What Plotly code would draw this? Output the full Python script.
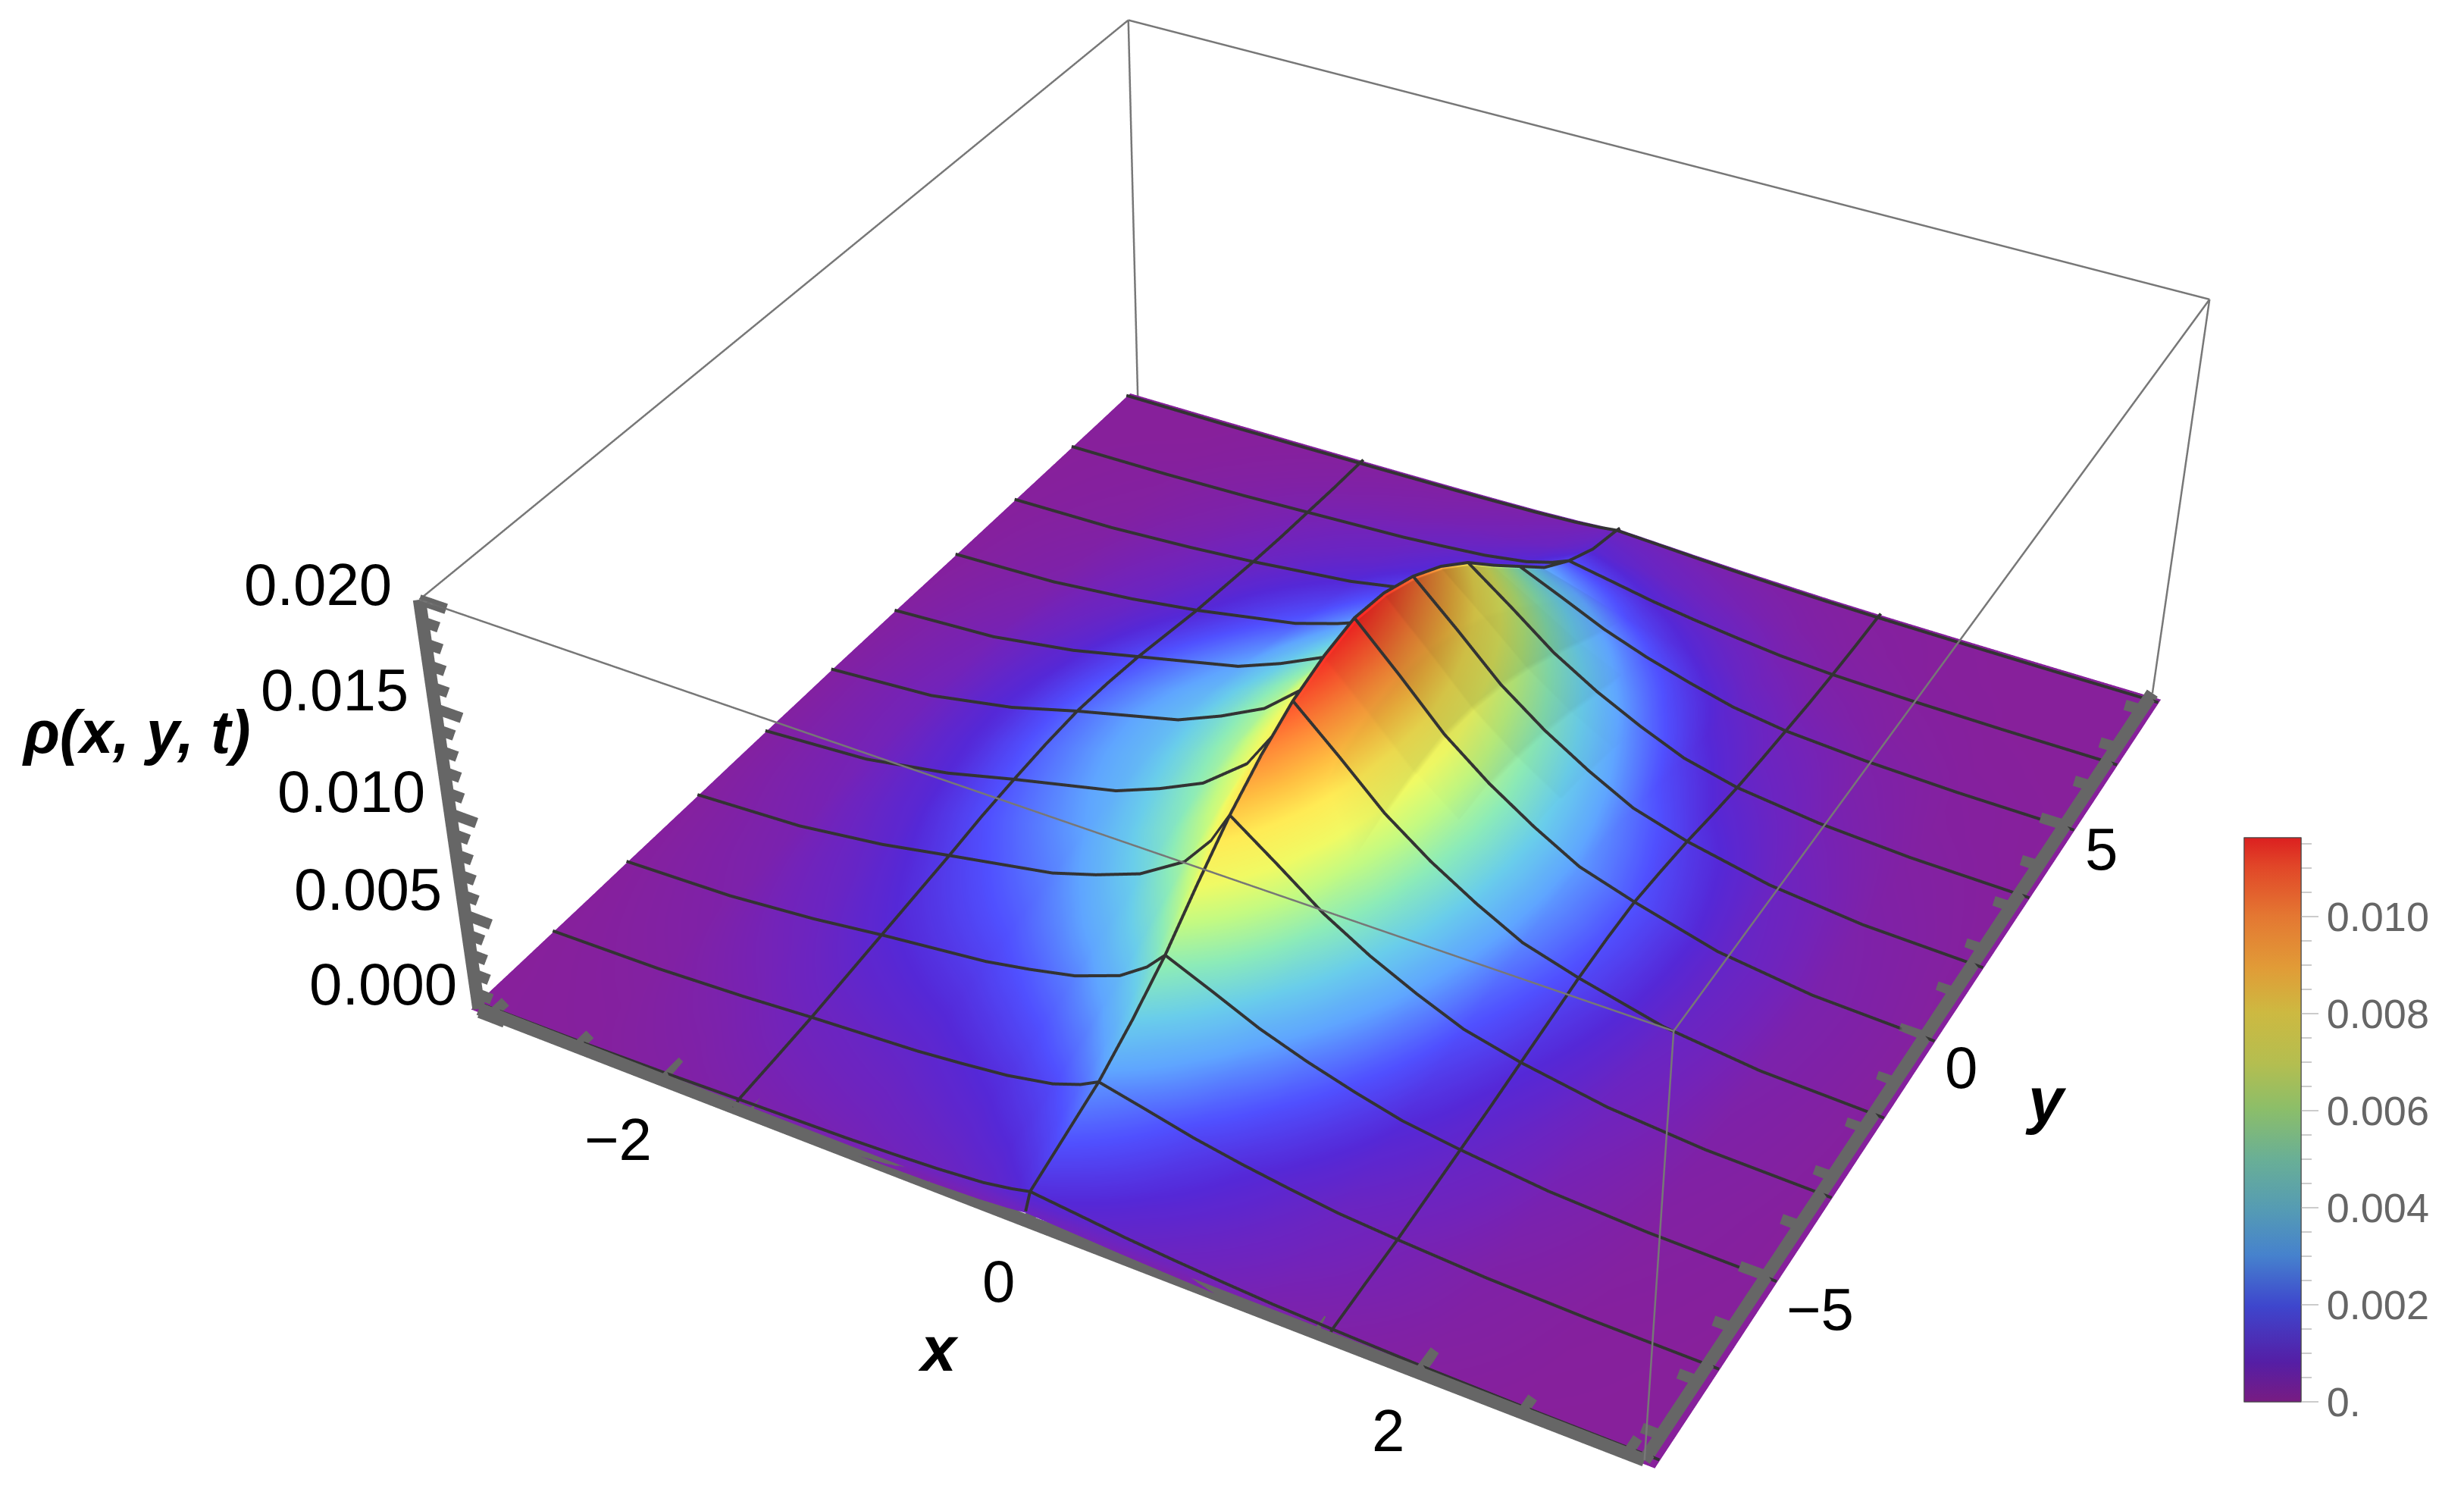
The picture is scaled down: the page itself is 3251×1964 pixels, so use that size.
import numpy as np
import plotly.graph_objects as go

# grid, rho in units of 1e-5
x_grid = [-3.13,-2.5,-2,-1.6,-1,-.75,-.5,-.25,-.1,0,.25,.5,.75,1,1.25,1.55,2,2.5,3.13]
y_grid = [-8.45,-8.33,-7.5,-6.67,-5.83,-5,-4.17,-3.33,-2.5,-1.67,-.83,0,.83,1.67,2.5,3.33,4.17,5,5.83,6.67,7.5,8.33,8.45]
rho_1e5 = [
 [0,3,6,11,18,23,28,38,49,60,49,37,28,20,14,9,4,1,0],
 [2,6,15,26,41,51,64,84,108,130,106,81,62,46,32,22,10,3,1],
 [2,9,24,42,65,81,101,133,169,205,168,129,98,72,50,35,16,5,1],
 [3,13,35,60,91,113,139,183,232,280,228,174,132,97,66,45,20,7,1],
 [4,19,49,85,128,159,197,259,327,395,322,247,187,138,95,65,29,10,2],
 [6,24,64,110,169,211,261,345,438,530,432,330,250,183,125,85,38,13,3],
 [7,30,78,135,214,271,338,451,576,700,569,432,325,236,159,105,47,16,3],
 [8,35,93,160,258,328,412,552,706,860,699,532,400,291,196,130,59,20,4],
 [10,42,110,190,301,381,476,635,810,985,802,612,462,338,230,155,70,23,5],
 [11,46,122,210,332,419,523,697,889,1080,882,675,513,378,261,180,81,27,5],
 [11,50,131,225,352,443,553,735,935,1135,928,712,543,402,280,195,88,29,6],
 [12,51,133,230,360,453,565,751,955,1160,949,728,555,411,286,200,90,30,6],
 [11,47,125,215,342,433,543,725,925,1125,917,700,530,388,265,180,81,27,5],
 [10,42,110,190,310,396,500,672,861,1050,853,647,486,352,236,155,70,23,5],
 [8,34,90,155,266,345,439,597,771,945,764,574,425,302,194,120,54,18,4],
 [6,26,70,120,217,286,368,506,658,810,652,486,356,248,155,90,41,14,3],
 [5,21,55,95,171,226,291,400,520,640,514,383,280,194,119,68,31,10,2],
 [4,15,41,70,127,168,218,300,390,480,385,287,209,145,89,50,23,8,2],
 [3,11,29,50,88,115,147,201,261,320,257,190,139,95,58,32,14,5,1],
 [2,8,20,35,58,75,94,127,164,200,160,119,87,60,36,20,9,3,1],
 [1,4,12,20,33,42,52,70,90,110,88,66,48,34,21,12,5,2,0],
 [1,2,6,10,17,22,28,38,49,60,49,37,27,19,13,8,4,1,0],
 [0,2,5,8,14,18,23,32,41,50,40,30,22,16,10,6,3,1,0],
]
x_mesh = [-1.6,0,1.55]
y_mesh = [-8.33,-6.67,-5,-3.33,-1.67,0,1.67,3.33,5,6.67,8.33]
x_major = [-2,0,2]
x_minor = [-3,-2.5,-1.5,-1,-.5,.5,1,1.5,2.5,3]
y_major = [-5,0,5]
y_minor = [-8,-7,-6,-4,-3,-2,-1,1,2,3,4,6,7,8]
z_major = [0,.005,.01,.015,.02]
z_minor = [.001,.002,.003,.004,.006,.007,.008,.009,.011,.012,.013,.014,.016,.017,.018,.019]
cbar_major = [0,.002,.004,.006,.008,.01]
cbar_labels = ["0.","0.002","0.004","0.006","0.008","0.010"]
cbar_minor = [.0005,.001,.0015,.0025,.003,.0035,.0045,.005,.0055,.0065,.007,.0075,.0085,.009,.0095,.0105,.011,.0115]

xf, yf, zf = 3.08, 8.45, 0.02
CMAX = 0.01162
xr, yr, zr = [-3.13,3.13], [-8.45,8.45], [-0.0002,0.0202]

eye = dict(x=1.2912,y=-2.4629,z=1.9988)
center = dict(x=-.0678,y=-.0741,z=-.0653)
up = dict(x=.0514,y=-.0745,z=1)
aspect = dict(x=1,y=1.0037,z=.3949)
focal_px = 5813.6
fovy = 2*np.arctan(982/focal_px)

x_arr=np.array(x_grid); y_arr=np.array(y_grid); rho=np.array(rho_1e5)*1e-5

bar_scale = [[0,"rgb(120,28,130)"],[.07,"rgb(85,30,165)"],[.17,"rgb(62,70,205)"],[.26,"rgb(70,130,205)"],
             [.34,"rgb(85,155,180)"],[.43,"rgb(105,175,150)"],[.52,"rgb(140,190,105)"],[.60,"rgb(180,190,80)"],
             [.69,"rgb(205,185,65)"],[.77,"rgb(225,155,55)"],[.86,"rgb(228,120,50)"],[.95,"rgb(225,70,40)"],[1,"rgb(220,32,32)"]]
surf_scale = [[0,"rgb(135,32,155)"],[.04,"rgb(115,35,185)"],[.10,"rgb(85,40,215)"],[.17,"rgb(80,80,255)"],
              [.26,"rgb(95,165,255)"],[.34,"rgb(105,205,235)"],[.43,"rgb(140,235,185)"],[.52,"rgb(195,250,130)"],
              [.60,"rgb(240,250,100)"],[.69,"rgb(255,235,85)"],[.77,"rgb(255,190,65)"],[.86,"rgb(255,135,55)"],[1,"rgb(255,35,35)"]]

fig=go.Figure()
fig.add_trace(go.Surface(x=x_arr,y=y_arr,z=rho,cmin=0,cmax=CMAX,colorscale=surf_scale,showscale=False,
    lighting=dict(ambient=.5,diffuse=1,specular=0,roughness=1,fresnel=0),
    lightposition=dict(x=100000,y=0,z=115),hoverinfo="skip"))

def add_lines(points,color,width):
    xs,ys,zs=[],[],[]
    for seg in points:
        for q in seg:
            xs.append(q[0]); ys.append(q[1]); zs.append(q[2])
        xs.append(None); ys.append(None); zs.append(None)
    fig.add_trace(go.Scatter3d(x=xs,y=ys,z=zs,mode="lines",
        line=dict(color=color,width=width),hoverinfo="skip",showlegend=False))

# mesh lines follow the surface rows and columns
dz=0.00008
mesh=[]
for yv in y_mesh:
    i=y_grid.index(yv)
    mesh.append([(x_grid[k],yv,rho[i,k]+dz) for k in range(len(x_grid))])
for xv in x_mesh:
    j=x_grid.index(xv)
    mesh.append([(xv,y_grid[k],rho[k,j]+dz) for k in range(len(y_grid))])
add_lines(mesh,"#333333",8)

# thin frame
zb=-0.00015
thin=[((-xf,-yf,zf),(xf,-yf,zf)),((xf,-yf,zf),(xf,yf,zf)),((xf,yf,zf),(-xf,yf,zf)),((-xf,yf,zf),(-xf,-yf,zf)),
      ((xf,-yf,0.0002),(xf,-yf,zf)),((xf,yf,0.0002),(xf,yf,zf)),((-xf,yf,zb),(-xf,yf,zf)),
      ((-xf,yf,zb),(xf,yf,zb)),((-xf,yf,zb),(-xf,-yf,zb))]
add_lines(thin,"#777777",5)

# thick axes and ticks
za=0.0002
add_lines([((-xf,-yf,za),(xf,-yf,za)),((xf,-yf,za),(xf,yf,za)),((-xf,-yf,za),(-xf,-yf,zf))],"#666666",34)
ticks=[((v,-yf,za),(v,-yf+.42,za)) for v in x_major]+[((v,-yf,za),(v,-yf+.28,za)) for v in x_minor]
ticks+=[((xf,v,za),(xf-.13,v,za)) for v in y_major]+[((xf,v,za),(xf-.09,v,za)) for v in y_minor]
ticks+=[((-xf,-yf,v),(-xf+.15,-yf,v)) for v in z_major]+[((-xf,-yf,v),(-xf+.09,-yf,v)) for v in z_minor]
add_lines(ticks,"#666666",28)

# colour bar: two stacked bars so major and minor ticks can differ in length
def cbar(tickvals,ticktext,ticklen,font):
    return dict(x=2961/3251,xanchor="left",xpad=0,y=(1964-1849)/1964,yanchor="bottom",ypad=0,
        lenmode="pixels",len=744,thicknessmode="pixels",thickness=75,outlinecolor="#444444",outlinewidth=1,
        tickmode="array",tickvals=tickvals,ticktext=ticktext,ticks="outside",ticklen=ticklen,tickwidth=2,
        tickcolor="#cccccc",tickfont=font)
lbl=dict(family="Liberation Sans",size=54,color="#666666")
fig.add_trace(go.Scatter3d(x=[0],y=[0],z=[0],mode="markers",hoverinfo="skip",showlegend=False,
    marker=dict(size=1,opacity=0,color=[0],cmin=0,cmax=CMAX,colorscale=bar_scale,showscale=True,
        colorbar=cbar(cbar_minor,[""]*len(cbar_minor),14,lbl))))
fig.add_trace(go.Scatter3d(x=[0],y=[0],z=[0],mode="markers",hoverinfo="skip",showlegend=False,
    marker=dict(size=1,opacity=0,color=[0],cmin=0,cmax=CMAX,colorscale=bar_scale,showscale=True,
        colorbar=cbar(cbar_major,cbar_labels,23,lbl))))

ax_off=dict(visible=False,showgrid=False,zeroline=False,showbackground=False,showticklabels=False)
fig.update_layout(width=3251,height=1964,margin=dict(l=0,r=0,t=0,b=0),paper_bgcolor="white",showlegend=False,
    hovermode=False,
    scene=dict(domain=dict(x=[0,1],y=[0,1]),
        xaxis=dict(range=xr,**ax_off),yaxis=dict(range=yr,**ax_off),zaxis=dict(range=zr,**ax_off),
        aspectmode="manual",aspectratio=aspect,camera=dict(eye=eye,center=center,up=up,projection=dict(type="perspective"))))

def label(text,px,py,size=78):
    fig.add_annotation(xref="paper",yref="paper",x=px/3251,y=1-py/1964,text=text,showarrow=False,
        font=dict(family="Liberation Sans",size=size,color="black"),xanchor="center",yanchor="middle")
for t,px,py in [("0.020",419,771),("0.015",441,910),("0.010",463,1044),("0.005",485,1173),("0.000",505,1298),
                ("−2",815,1503),("0",1317,1690),("2",1831,1887),("−5",2401,1727),("0",2587,1408),("5",2772,1120)]:
    label(t,px,py)
label("<b><i>x</i></b>",1238,1779,84)
label("<b><i>y</i></b>",2699,1451,84)
label("<b><i>ρ(x, y, t)</i></b>",180,965,79)

# plotly has no option for the field of view, the reference uses a narrow one
narrow_view = """
document.body.style.margin = '0';
var s = document.getElementById('{plot_id}')._fullLayout.scene._scene.glplot;
s.fovy = %.5f;
s.gl.depthMask(true);
s.gl.clear(s.gl.COLOR_BUFFER_BIT | s.gl.DEPTH_BUFFER_BIT);
s.redraw();
""" % fovy
fig.write_html("out.html",post_script=narrow_view,config=dict(displayModeBar=False))
